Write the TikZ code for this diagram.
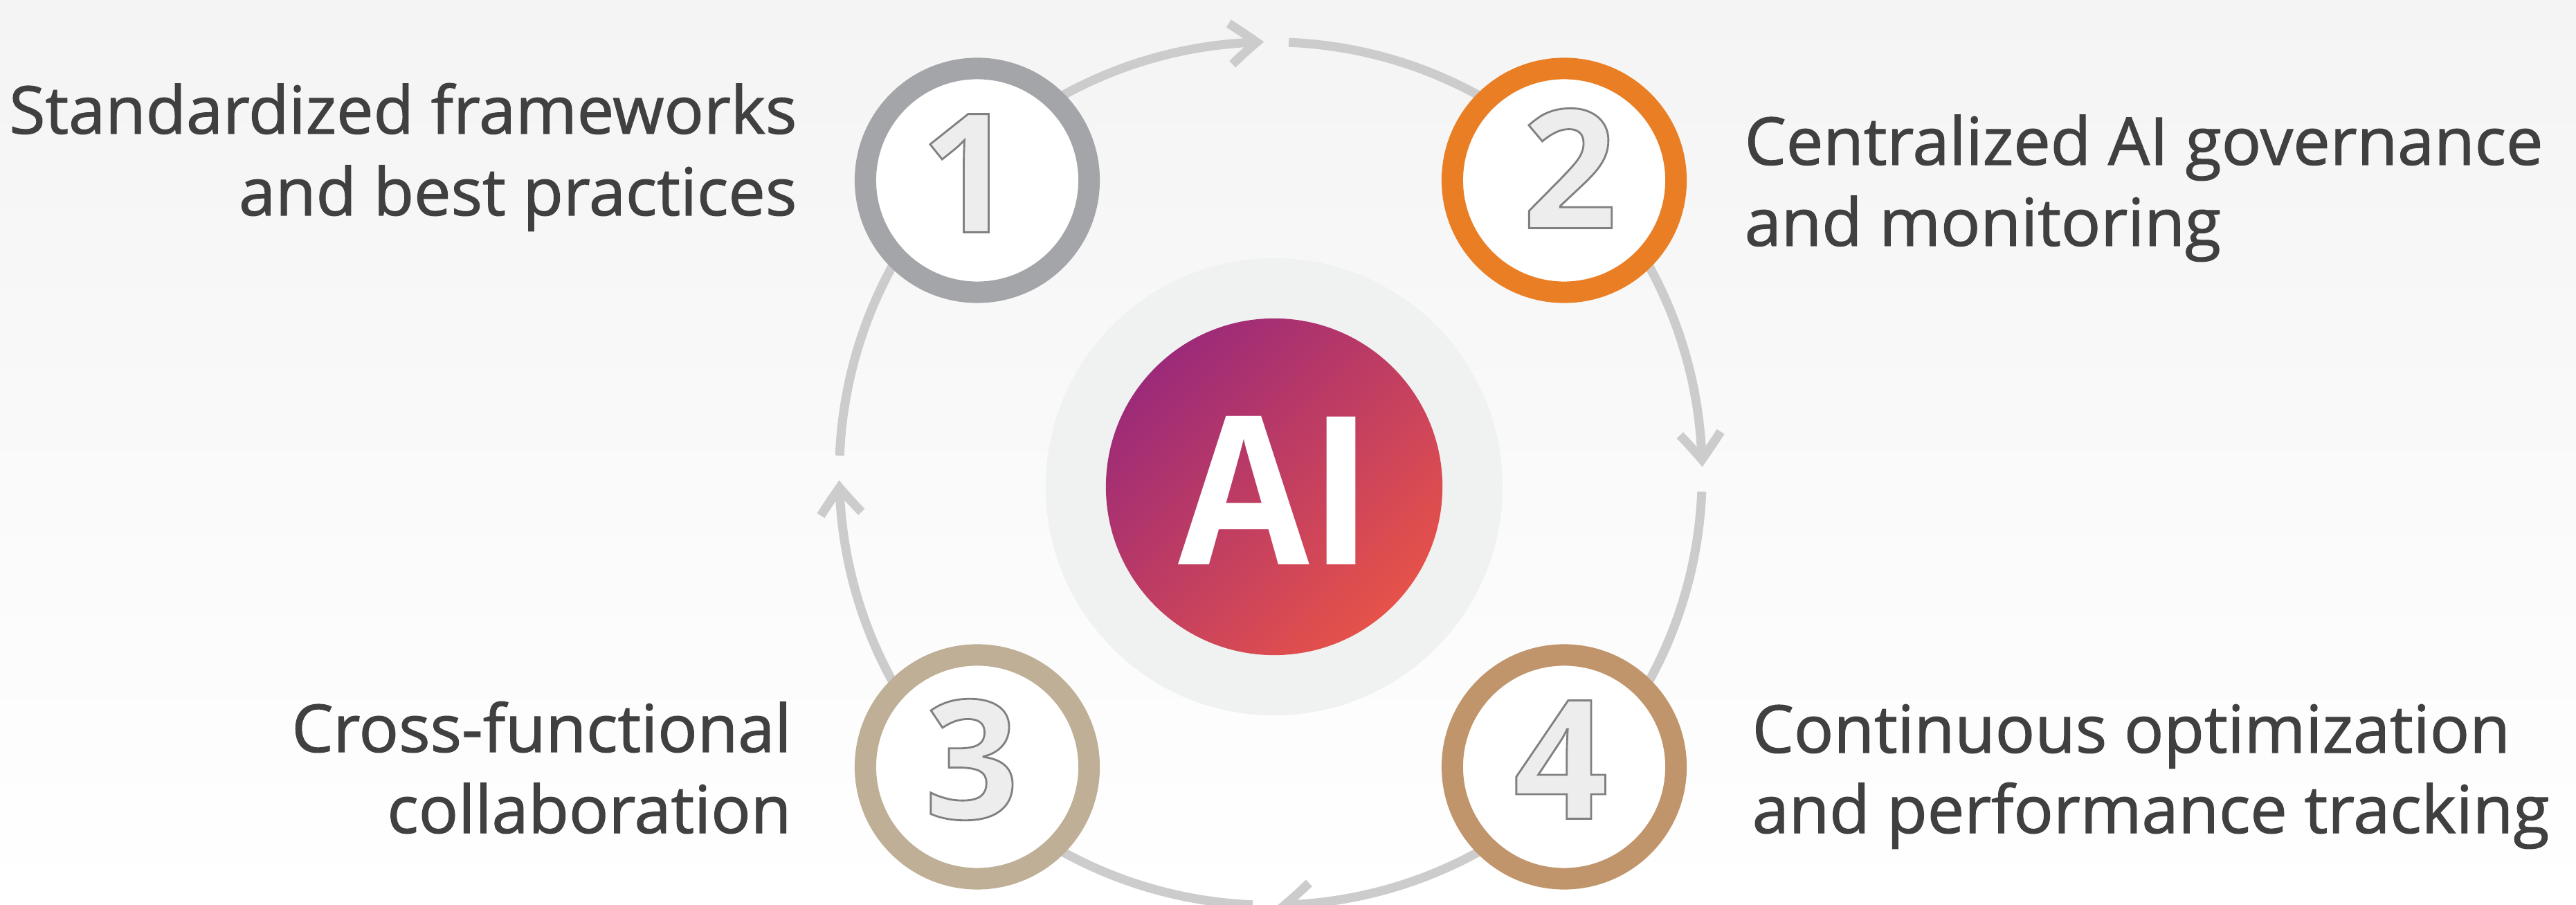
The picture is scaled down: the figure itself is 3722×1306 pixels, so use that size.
\documentclass[tikz,border=0pt]{standalone}
\usepackage{fontspec}
\setmainfont{Open Sans}
\newfontfamily\lblfont[FakeBold=1.2]{Open Sans}
\usetikzlibrary{arrows.meta,bending}
\definecolor{txt}{HTML}{404040}
\definecolor{bgtop}{HTML}{F4F4F4}
\definecolor{arcgray}{HTML}{CCCCCC}
\definecolor{halo}{HTML}{F0F2F1}
\definecolor{aitop}{HTML}{9C2A79}
\definecolor{aimid}{HTML}{D83C5F}
\definecolor{aibot}{HTML}{E6524A}
\definecolor{colA}{HTML}{A4A5A9}
\definecolor{colB}{HTML}{E97E25}
\definecolor{colC}{HTML}{BEAF96}
\definecolor{colD}{HTML}{C0956B}
\definecolor{digfill}{HTML}{EDEDED}
\newcommand\outl[1]{\special{pdf:literal direct 2 Tr 0.8 w 0.5 0.5 0.5 RG}#1\special{pdf:literal direct 0 Tr}}
\tikzset{
  loopline/.style={draw=arcgray, line width=0.13cm, -{Straight Barb[length=0.38cm,width=0.59cm,bend]}},
  numring/.style={circle, draw=#1, fill=white, line width=0.31cm, minimum size=3.23cm, inner sep=0pt},
  digit/.style={inner sep=0pt, text=digfill, font=\bfseries\fontsize{68pt}{68pt}\selectfont},
  lbl/.style={text=txt, inner sep=0pt, font=\lblfont\fontsize{27.1pt}{33pt}\selectfont}
}
\begin{document}
\begin{tikzpicture}[x=0.01cm,y=0.01cm]
\useasboundingbox (0,0) rectangle (3722,1306);
\clip (0,0) rectangle (3722,1306);
\shade[top color=bgtop,bottom color=white] (0,0) rectangle (3722,1306);

\coordinate (ctr) at (1836,622);
\draw[loopline] ([shift={(177.6:6.23cm)}]ctr) arc[start angle=177.6,end angle=90.9,radius=6.23cm];
\draw[loopline] ([shift={(87.6:6.23cm)}]ctr) arc[start angle=87.6,end angle=0.9,radius=6.23cm];
\draw[loopline] ([shift={(-2.4:6.23cm)}]ctr) arc[start angle=-2.4,end angle=-89.1,radius=6.23cm];
\draw[loopline] ([shift={(-92.4:6.23cm)}]ctr) arc[start angle=-92.4,end angle=-179.1,radius=6.23cm];

\node[circle, fill=halo, minimum size=6.6cm, inner sep=0pt] (halo) at (1841,603) {};
\node[circle, minimum size=4.86cm, inner sep=0pt, top color=aitop, middle color=aimid, bottom color=aibot, shading angle=45] (ai) at (1841,603) {};
\node[inner sep=0pt, text=white, font=\bfseries\fontsize{85pt}{85pt}\selectfont] (ait) at (1843,597.5) {\scalebox{0.92}[1]{AI}};

\node[numring=colA] (c1) at (1412,1045.5) {};
\node[numring=colB] (c2) at (2260,1045.5) {};
\node[numring=colC] (c3) at (1412,198.5) {};
\node[numring=colD] (c4) at (2260,198.5) {};

\node[digit] (d1) at (1398,1056) {\outl{1}};
\node[digit] (d2) at (2268,1063) {\outl{2}};
\node[digit] (d3) at (1404,209) {\outl{3}};
\node[digit] (d4) at (2255,209) {\outl{4}};

\node[lbl, anchor=base east] (t1a) at (1152,1113) {Standardized frameworks};
\node[lbl, anchor=base east] (t1b) at (1152,995) {and best practices};
\node[lbl, anchor=base west] (t2a) at (2520,1068) {Centralized AI governance};
\node[lbl, anchor=base west] (t2b) at (2520,951) {and monitoring};
\node[lbl, anchor=base east] (t3a) at (1144,220) {Cross-functional};
\node[lbl, anchor=base east] (t3b) at (1144,103) {collaboration};
\node[lbl, anchor=base west] (t4a) at (2531,219) {Continuous optimization};
\node[lbl, anchor=base west] (t4b) at (2531,103) {and performance tracking};
\end{tikzpicture}
\end{document}
